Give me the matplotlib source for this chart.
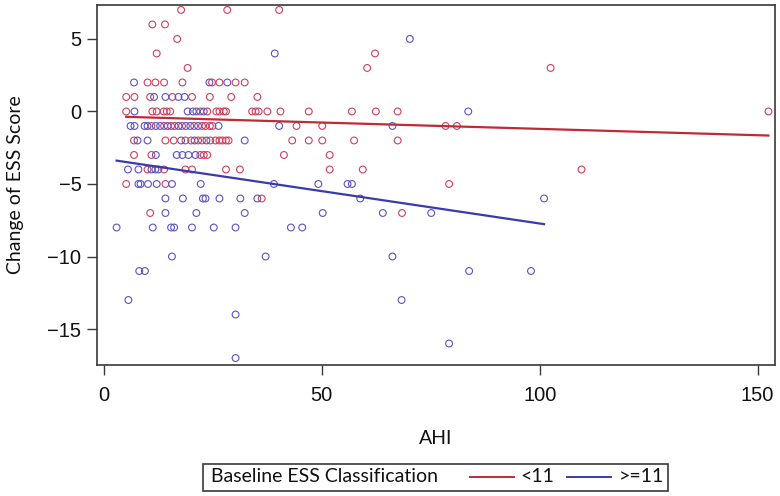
import matplotlib
matplotlib.use("Agg")
import matplotlib.pyplot as plt
from matplotlib.lines import Line2D
from matplotlib.patches import Rectangle

# baseline ESS < 11
red_ahi = [17.7, 28.3, 40.2,
           11.1, 14.0,
           16.8,
           12.1, 62.2,
           19.2, 60.4, 102.5,
           10.0, 11.8, 13.8, 18.0, 24.8, 26.5, 30.2, 32.3,
           5.1, 7.0, 10.6, 15.7, 20.2, 24.3, 29.2, 35.2,
           5.1, 11.1, 12.1, 13.7, 14.4, 15.2, 22.1, 23.7, 25.8, 26.5, 27.5, 28.0,
           34.0, 34.8, 35.5, 37.5, 40.5, 47.0, 56.9, 62.4, 67.4, 152.5,
           10.9, 13.8, 15.4, 16.2, 17.9, 20.7, 22.5, 23.3, 24.3, 24.9, 44.2, 50.1, 78.4, 81.0,
           6.9, 14.1, 16.0, 18.7, 20.0, 21.6, 22.5, 24.4, 25.6, 26.5, 27.2, 28.0, 28.6,
           43.2, 47.0, 50.1, 57.4, 67.4,
           6.9, 10.9, 22.1, 22.9, 23.7, 41.3, 51.8,
           10.0, 13.8, 18.7, 20.2, 28.0, 31.2, 51.8, 59.4, 109.6,
           5.1, 14.1, 79.2,
           36.2,
           10.6, 68.4]
red_change = [7, 7, 7,
              6, 6,
              5,
              4, 4,
              3, 3, 3,
              2, 2, 2, 2, 2, 2, 2, 2,
              1, 1, 1, 1, 1, 1, 1, 1,
              0, 0, 0, 0, 0, 0, 0, 0, 0, 0, 0, 0,
              0, 0, 0, 0, 0, 0, 0, 0, 0, 0,
              -1, -1, -1, -1, -1, -1, -1, -1, -1, -1, -1, -1, -1, -1,
              -2, -2, -2, -2, -2, -2, -2, -2, -2, -2, -2, -2, -2,
              -2, -2, -2, -2, -2,
              -3, -3, -3, -3, -3, -3, -3,
              -4, -4, -4, -4, -4, -4, -4, -4, -4,
              -5, -5, -5,
              -6,
              -7, -7]

# baseline ESS >= 11
blue_ahi = [70.2,
            39.2,
            6.9, 24.2, 28.3,
            11.5, 14.1, 17.1, 18.5,
            7.0, 19.2, 20.4, 21.2, 22.9, 83.6,
            6.1, 7.0, 9.3, 10.0, 11.9, 12.9, 14.6, 17.1, 18.8, 19.8, 21.6, 26.3, 40.2, 66.2,
            7.7, 10.0, 17.7, 20.8, 23.5, 32.3,
            11.9, 16.7, 18.0, 19.4, 21.0,
            5.5, 7.9, 10.9, 11.8, 12.5,
            7.9, 8.4, 10.1, 12.1, 15.6, 22.2, 39.0, 49.2, 55.9, 56.9,
            14.1, 18.1, 22.7, 23.3, 26.5, 31.3, 35.2, 58.8, 101.0,
            14.1, 21.2, 32.3, 50.2, 64.0, 75.1,
            2.9, 11.2, 15.4, 16.1, 20.2, 25.2, 30.2, 42.9, 45.5,
            15.6, 37.1, 66.2,
            8.1, 9.4, 83.8, 98.0,
            5.6, 68.3,
            30.2,
            79.2,
            30.2]
blue_change = [5,
               4,
               2, 2, 2,
               1, 1, 1, 1,
               0, 0, 0, 0, 0, 0,
               -1, -1, -1, -1, -1, -1, -1, -1, -1, -1, -1, -1, -1, -1,
               -2, -2, -2, -2, -2, -2,
               -3, -3, -3, -3, -3,
               -4, -4, -4, -4, -4,
               -5, -5, -5, -5, -5, -5, -5, -5, -5, -5,
               -6, -6, -6, -6, -6, -6, -6, -6, -6,
               -7, -7, -7, -7, -7, -7,
               -8, -8, -8, -8, -8, -8, -8, -8, -8,
               -10, -10, -10,
               -11, -11, -11, -11,
               -13, -13,
               -14,
               -16,
               -17]

# regression line ends
red_fit_x = [5.1, 152.5]
red_fit_y = [-0.37, -1.66]
blue_fit_x = [2.9, 101.0]
blue_fit_y = [-3.39, -7.77]

x_ticks = [0, 50, 100, 150]
y_ticks = [-15, -10, -5, 0, 5]

red_pt = '#CF3F5C'
blue_pt = '#5A52C4'
red_ln = '#C02A35'
blue_ln = '#3A3AB0'
frame = '#3a3a3a'
label_font = ['Lato', 'DejaVu Sans']
tick_font = ['Liberation Sans', 'DejaVu Sans']

fig = plt.figure(figsize=(7.8, 4.96), dpi=100)
ax = fig.add_axes([97/780, 1 - 365/496, 678/780, 360/496])

ax.scatter(red_ahi, red_change, s=24, facecolors='none', edgecolors=red_pt, linewidths=0.8, zorder=3)
ax.scatter(blue_ahi, blue_change, s=24, facecolors='none', edgecolors=blue_pt, linewidths=0.8, zorder=3)
ax.plot(red_fit_x, red_fit_y, color=red_ln, lw=1.6, zorder=4)
ax.plot(blue_fit_x, blue_fit_y, color=blue_ln, lw=1.6, zorder=4)

ax.set_xlim(-1.6, 154.0)
ax.set_ylim(-17.48, 7.34)
ax.set_xticks(x_ticks)
ax.set_yticks(y_ticks)
ax.tick_params(direction='out', length=7.2, width=1.0, color=frame, labelsize=14.5, pad=4)
ax.tick_params(axis='x', pad=8)
for lab in ax.get_xticklabels() + ax.get_yticklabels():
    lab.set_family(tick_font)
    lab.set_color('#111111')
for sp in ax.spines.values():
    sp.set_color(frame)
    sp.set_linewidth(1.2)

ax.set_xlabel('AHI', family=label_font, fontsize=14, color='#111111')
ax.xaxis.set_label_coords(0.5, -0.18)
ax.set_ylabel('Change of ESS Score', family=label_font, fontsize=14, color='#111111')
ax.yaxis.set_label_coords(-0.107, 0.5)

# legend strip at the bottom
fig.patches.append(Rectangle((203/780, 1 - 491/496), 465/780, 27/496, transform=fig.transFigure,
                             fill=False, edgecolor=frame, lw=1.2))
ly = 1 - 477/496
fig.text(211/780, ly, 'Baseline ESS Classification', family=label_font, fontsize=14,
         va='center', ha='left', color='#111111')
fig.add_artist(Line2D([470/780, 514/780], [ly, ly], transform=fig.transFigure, color=red_ln, lw=1.4))
fig.text(520/780, ly, '<11', family=label_font, fontsize=14, va='center', ha='left', color='#111111')
fig.add_artist(Line2D([567/780, 611/780], [ly, ly], transform=fig.transFigure, color=blue_ln, lw=1.4))
fig.text(619/780, ly, '>=11', family=label_font, fontsize=14, va='center', ha='left', color='#111111')

fig.savefig('out.png', dpi=100)
